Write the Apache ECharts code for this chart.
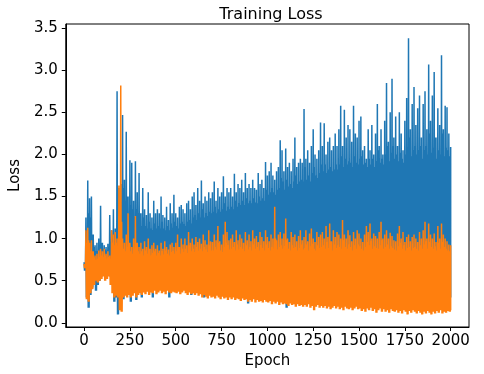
<!DOCTYPE html>
<html>
<head>
<meta charset="utf-8">
<script src="https://cdn.jsdelivr.net/npm/echarts@6/dist/echarts.min.js"></script>
<style>html,body{margin:0;padding:0;background:#fff}#c{width:484px;height:374px}</style>
</head>
<body>
<div id="c"></div>
<script>
// Per 10-epoch bucket (bucket k = epochs 10k..10k+9):
// High = spike peak, Top = level up to which the band is solid, Low = trough
const bucketStart = 0, bucketSize = 10;
const xTicks = [0, 250, 500, 750, 1000, 1250, 1500, 1750, 2000];
const yTicks = [0, 0.5, 1.0, 1.5, 2.0, 2.5, 3.0, 3.5];

const blueHigh = [
  0.72,1.25,1.69,1.48,1.50,1.05,0.92,0.95,1.00,1.39,
  0.95,0.92,0.90,0.94,1.28,1.10,1.35,1.12,2.75,1.60,
  1.65,2.47,1.70,2.27,1.50,1.93,1.90,1.45,1.92,1.55,
  1.78,1.30,1.60,1.35,1.28,1.55,1.30,1.25,1.45,1.30,
  1.35,1.30,1.50,1.28,1.25,1.38,1.22,1.42,1.30,1.52,
  1.30,1.25,1.38,1.40,1.35,1.30,1.42,1.45,1.35,1.50,
  1.55,1.40,1.60,1.45,1.69,1.42,1.50,1.45,1.55,1.48,
  1.55,1.68,1.45,1.60,1.50,1.55,1.74,1.50,1.60,1.55,
  1.60,1.50,1.77,1.55,1.65,1.60,1.70,1.55,1.78,1.60,
  1.65,1.60,1.70,1.60,1.58,1.78,1.65,1.70,1.60,1.91,
  1.75,1.80,1.90,1.75,1.70,1.80,1.85,2.17,2.05,1.80,
  2.07,1.85,1.90,1.80,1.95,2.20,1.85,1.90,1.95,1.90,
  2.54,1.95,2.05,1.90,2.10,2.30,2.00,1.95,2.05,2.38,
  2.10,2.37,2.00,2.15,2.20,2.05,2.10,2.25,2.10,2.30,
  2.58,2.10,2.53,2.20,2.35,2.30,2.15,2.58,2.25,2.20,
  2.40,2.45,2.05,2.10,1.95,2.30,2.05,2.35,2.00,2.25,
  2.60,2.10,2.30,2.00,2.40,2.85,2.15,2.50,2.90,2.20,
  2.45,2.10,2.50,2.25,2.05,2.40,2.67,3.38,2.30,2.60,
  2.80,2.35,2.55,2.70,2.20,2.60,2.75,2.30,3.07,2.40,
  2.70,2.98,2.20,2.55,2.35,3.18,2.30,2.58,2.56,2.25,
  2.09
];
const blueTop = [
  0.70,1.10,1.30,1.25,1.05,0.90,0.85,0.85,0.88,0.95,
  0.88,0.87,0.86,0.88,0.95,1.00,1.05,1.00,1.40,1.30,
  1.40,1.60,1.45,1.50,1.30,1.40,1.35,1.25,1.35,1.30,
  1.30,1.15,1.25,1.15,1.12,1.20,1.12,1.10,1.18,1.12,
  1.15,1.12,1.20,1.12,1.10,1.15,1.10,1.18,1.13,1.20,
  1.15,1.12,1.18,1.20,1.17,1.15,1.20,1.22,1.18,1.25,
  1.28,1.22,1.30,1.25,1.35,1.25,1.30,1.27,1.32,1.30,
  1.32,1.38,1.30,1.35,1.32,1.35,1.42,1.33,1.38,1.35,
  1.38,1.35,1.45,1.38,1.42,1.40,1.45,1.40,1.48,1.42,
  1.45,1.42,1.48,1.43,1.42,1.50,1.45,1.48,1.45,1.58,
  1.52,1.55,1.60,1.55,1.52,1.58,1.60,1.72,1.68,1.58,
  1.70,1.62,1.65,1.60,1.68,1.75,1.65,1.68,1.70,1.68,
  1.85,1.70,1.75,1.68,1.78,1.85,1.75,1.72,1.78,1.88,
  1.80,1.88,1.78,1.82,1.85,1.80,1.82,1.88,1.82,1.88,
  1.98,1.85,1.95,1.88,1.92,1.90,1.85,1.98,1.90,1.88,
  1.95,1.98,1.88,1.90,1.85,1.95,1.88,1.95,1.85,1.92,
  2.05,1.90,1.95,1.88,2.00,2.10,1.92,2.02,2.10,1.95,
  2.00,1.92,2.02,1.95,1.90,2.00,2.08,2.20,1.98,2.05,
  2.10,2.00,2.05,2.10,1.95,2.05,2.10,2.00,2.25,2.02,
  2.08,2.20,1.95,2.05,2.00,2.25,1.98,2.08,2.05,1.98,
  1.95
];
const blueLow = [
  0.62,0.30,0.18,0.33,0.42,0.45,0.38,0.45,0.50,0.55,
  0.58,0.55,0.60,0.57,0.55,0.45,0.25,0.30,0.10,0.30,
  0.40,0.28,0.38,0.40,0.42,0.25,0.40,0.38,0.27,0.40,
  0.42,0.30,0.40,0.42,0.41,0.40,0.42,0.30,0.41,0.42,
  0.42,0.43,0.41,0.42,0.40,0.43,0.30,0.42,0.41,0.43,
  0.40,0.42,0.39,0.41,0.42,0.40,0.38,0.41,0.33,0.40,
  0.38,0.39,0.37,0.38,0.36,0.30,0.37,0.35,0.37,0.36,
  0.36,0.35,0.37,0.36,0.34,0.36,0.35,0.36,0.33,0.36,
  0.34,0.35,0.33,0.34,0.35,0.32,0.34,0.33,0.34,0.23,
  0.33,0.32,0.34,0.31,0.33,0.32,0.33,0.31,0.33,0.32,
  0.31,0.32,0.30,0.31,0.30,0.32,0.29,0.31,0.30,0.30,
  0.18,0.29,0.30,0.29,0.30,0.22,0.29,0.28,0.29,0.28,
  0.28,0.29,0.28,0.27,0.29,0.28,0.27,0.29,0.28,0.27,
  0.27,0.26,0.28,0.26,0.27,0.26,0.28,0.27,0.26,0.27,
  0.26,0.27,0.26,0.25,0.26,0.26,0.25,0.27,0.26,0.25,
  0.26,0.24,0.27,0.25,0.26,0.27,0.25,0.26,0.24,0.27,
  0.25,0.26,0.27,0.25,0.26,0.24,0.27,0.25,0.26,0.25,
  0.27,0.25,0.26,0.24,0.27,0.26,0.25,0.27,0.25,0.26,
  0.25,0.27,0.26,0.25,0.24,0.26,0.27,0.25,0.26,0.25,
  0.26,0.25,0.27,0.26,0.25,0.24,0.26,0.25,0.27,0.26,
  0.30
];
const orangeHigh = [
  0.70,1.10,1.13,0.95,0.98,0.85,0.80,0.82,0.86,0.88,
  0.85,0.88,0.82,0.85,0.80,1.10,1.05,1.08,1.00,1.63,
  2.82,1.00,0.95,1.05,1.30,0.95,0.90,1.00,1.27,0.95,
  0.90,0.95,0.88,0.97,0.90,1.00,0.88,0.92,0.95,0.88,
  0.92,0.86,0.95,0.88,0.97,0.90,0.87,0.93,0.95,0.90,
  0.95,1.05,0.90,1.00,0.93,1.00,0.92,1.08,0.95,1.00,
  0.93,1.02,0.96,1.00,0.94,1.05,0.98,0.93,1.10,0.97,
  0.96,1.05,0.98,1.15,0.97,0.93,1.05,1.20,1.08,0.98,
  1.00,1.05,0.96,1.10,0.98,1.05,1.00,0.95,1.08,0.98,
  1.05,0.97,1.10,1.00,1.03,0.96,1.08,1.02,0.97,1.10,
  1.02,0.97,1.05,1.00,1.38,0.98,1.05,1.08,1.00,1.06,
  1.24,1.00,0.96,1.08,1.02,1.05,0.97,1.03,1.10,0.98,
  1.02,1.10,0.97,1.06,1.12,1.00,0.96,1.08,1.02,1.05,
  1.08,1.00,1.15,1.02,1.18,0.97,1.10,1.02,1.08,1.05,
  1.00,1.22,1.05,1.00,1.10,1.04,0.97,1.08,1.00,1.10,
  1.06,1.00,0.96,1.05,1.15,1.08,1.18,1.00,1.06,1.03,
  1.00,1.08,1.20,1.00,1.05,1.10,1.00,1.07,1.03,0.98,
  0.97,1.06,1.15,1.00,1.08,0.96,1.02,1.05,0.97,1.02,
  1.05,1.00,0.96,1.08,1.00,1.10,1.20,1.00,1.18,1.05,
  1.00,1.06,0.96,1.15,1.00,1.18,1.05,1.00,0.97,0.93,
  0.92
];
const orangeTop = [
  0.68,0.95,0.98,0.85,0.85,0.78,0.75,0.76,0.78,0.80,
  0.78,0.80,0.76,0.78,0.75,0.95,0.92,0.95,0.90,1.05,
  1.20,0.88,0.85,0.90,0.95,0.85,0.82,0.88,0.95,0.85,
  0.82,0.85,0.80,0.86,0.82,0.88,0.80,0.83,0.85,0.80,
  0.83,0.80,0.85,0.81,0.86,0.82,0.80,0.84,0.85,0.82,
  0.85,0.90,0.82,0.88,0.84,0.88,0.83,0.92,0.85,0.88,
  0.84,0.90,0.86,0.88,0.85,0.90,0.87,0.84,0.92,0.86,
  0.86,0.90,0.87,0.95,0.86,0.84,0.90,0.95,0.92,0.87,
  0.88,0.90,0.86,0.93,0.87,0.90,0.88,0.85,0.92,0.87,
  0.90,0.86,0.93,0.88,0.90,0.86,0.92,0.89,0.86,0.93,
  0.89,0.86,0.90,0.88,1.00,0.87,0.90,0.92,0.88,0.91,
  0.98,0.88,0.86,0.92,0.89,0.90,0.86,0.89,0.93,0.87,
  0.89,0.93,0.86,0.91,0.94,0.88,0.86,0.92,0.89,0.90,
  0.92,0.88,0.96,0.89,0.97,0.86,0.93,0.89,0.92,0.90,
  0.88,0.98,0.90,0.88,0.93,0.90,0.86,0.92,0.88,0.93,
  0.91,0.88,0.86,0.90,0.96,0.92,0.97,0.88,0.91,0.89,
  0.88,0.92,0.98,0.88,0.90,0.93,0.88,0.91,0.89,0.87,
  0.86,0.91,0.95,0.88,0.92,0.86,0.89,0.90,0.86,0.89,
  0.90,0.88,0.86,0.92,0.88,0.93,0.97,0.88,0.96,0.90,
  0.88,0.91,0.86,0.95,0.88,0.96,0.90,0.88,0.86,0.85,
  0.88
];
const orangeLow = [
  0.65,0.28,0.25,0.35,0.40,0.45,0.50,0.48,0.50,0.52,
  0.55,0.50,0.52,0.55,0.45,0.35,0.30,0.32,0.30,0.15,
  0.13,0.30,0.32,0.30,0.33,0.30,0.32,0.35,0.30,0.33,
  0.35,0.33,0.36,0.34,0.37,0.33,0.36,0.35,0.38,0.34,
  0.36,0.38,0.35,0.37,0.34,0.38,0.36,0.35,0.37,0.36,
  0.35,0.37,0.34,0.36,0.38,0.35,0.33,0.36,0.34,0.35,
  0.33,0.35,0.32,0.34,0.30,0.33,0.31,0.29,0.32,0.30,
  0.31,0.29,0.32,0.30,0.28,0.31,0.29,0.30,0.27,0.30,
  0.28,0.30,0.27,0.29,0.28,0.26,0.29,0.27,0.28,0.25,
  0.27,0.25,0.28,0.24,0.27,0.25,0.26,0.24,0.27,0.25,
  0.24,0.26,0.22,0.25,0.23,0.25,0.21,0.24,0.22,0.23,
  0.22,0.20,0.23,0.21,0.22,0.19,0.22,0.20,0.21,0.19,
  0.21,0.19,0.22,0.18,0.20,0.15,0.19,0.21,0.18,0.20,
  0.18,0.20,0.17,0.19,0.16,0.18,0.20,0.17,0.19,0.16,
  0.18,0.15,0.19,0.17,0.16,0.18,0.15,0.17,0.19,0.16,
  0.17,0.14,0.16,0.13,0.17,0.15,0.18,0.14,0.16,0.12,
  0.15,0.17,0.13,0.16,0.13,0.15,0.12,0.16,0.14,0.13,
  0.15,0.12,0.14,0.11,0.15,0.13,0.10,0.14,0.12,0.15,
  0.13,0.11,0.14,0.12,0.10,0.13,0.11,0.14,0.12,0.10,
  0.13,0.11,0.14,0.12,0.15,0.11,0.13,0.12,0.14,0.13,
  0.15
];

function interleave(high, top, low) {
  const out = [];
  const lastX = bucketStart + (high.length - 1) * bucketSize;
  const q = bucketSize / 4;
  for (let k = 0; k < high.length; k++) {
    const x0 = bucketStart + k * bucketSize;
    out.push([x0, high[k]]);
    out.push([Math.min(x0 + q, lastX), low[k]]);
    out.push([Math.min(x0 + 2 * q, lastX), top[k]]);
    out.push([Math.min(x0 + 3 * q, lastX), low[k]]);
  }
  return out;
}

const FONT = "'DejaVu Sans', sans-serif";
const chart = echarts.init(document.getElementById('c'), null, {renderer: 'canvas'});
chart.setOption({
  animation: false,
  backgroundColor: '#ffffff',
  title: {
    text: 'Training Loss', left: 266, top: 2, textAlign: 'center',
    textStyle: {fontFamily: FONT, fontSize: 16, fontWeight: 'normal', color: '#000'}
  },
  grid: {left: 62, right: 15, top: 24, bottom: 47, show: true, borderColor: '#000', borderWidth: 1, backgroundColor: 'transparent'},
  xAxis: {
    type: 'value', min: -100, max: 2100,
    name: 'Epoch', nameLocation: 'middle', nameGap: 27,
    nameTextStyle: {fontFamily: FONT, fontSize: 15, color: '#000'},
    axisLine: {show: true, onZero: false, lineStyle: {color: '#000', width: 1}},
    axisTick: {show: true, inside: false, length: 4, customValues: xTicks, lineStyle: {color: '#000'}},
    axisLabel: {customValues: xTicks, margin: 7, fontFamily: FONT, fontSize: 15, color: '#000',
      formatter: v => String(v)},
    splitLine: {show: false}
  },
  yAxis: {
    type: 'value', min: -0.05, max: 3.55,
    name: 'Loss', nameLocation: 'middle', nameGap: 37, nameRotate: 90,
    nameTextStyle: {fontFamily: FONT, fontSize: 15, color: '#000'},
    axisLine: {show: true, onZero: false, lineStyle: {color: '#000', width: 1}},
    axisTick: {show: true, inside: false, length: 4, customValues: yTicks, lineStyle: {color: '#000'}},
    axisLabel: {customValues: yTicks, margin: 8, fontFamily: FONT, fontSize: 15, color: '#000',
      formatter: v => v.toFixed(1)},
    splitLine: {show: false}
  },
  series: [
    {type: 'line', data: interleave(blueHigh, blueTop, blueLow), showSymbol: false, symbol: 'none',
     lineStyle: {color: '#1f77b4', width: 1.5}, itemStyle: {color: '#1f77b4'}, z: 2},
    {type: 'line', data: interleave(orangeHigh, orangeTop, orangeLow), showSymbol: false, symbol: 'none',
     lineStyle: {color: '#ff7f0e', width: 1.5}, itemStyle: {color: '#ff7f0e'}, z: 3}
  ]
});
</script>
</body>
</html>
